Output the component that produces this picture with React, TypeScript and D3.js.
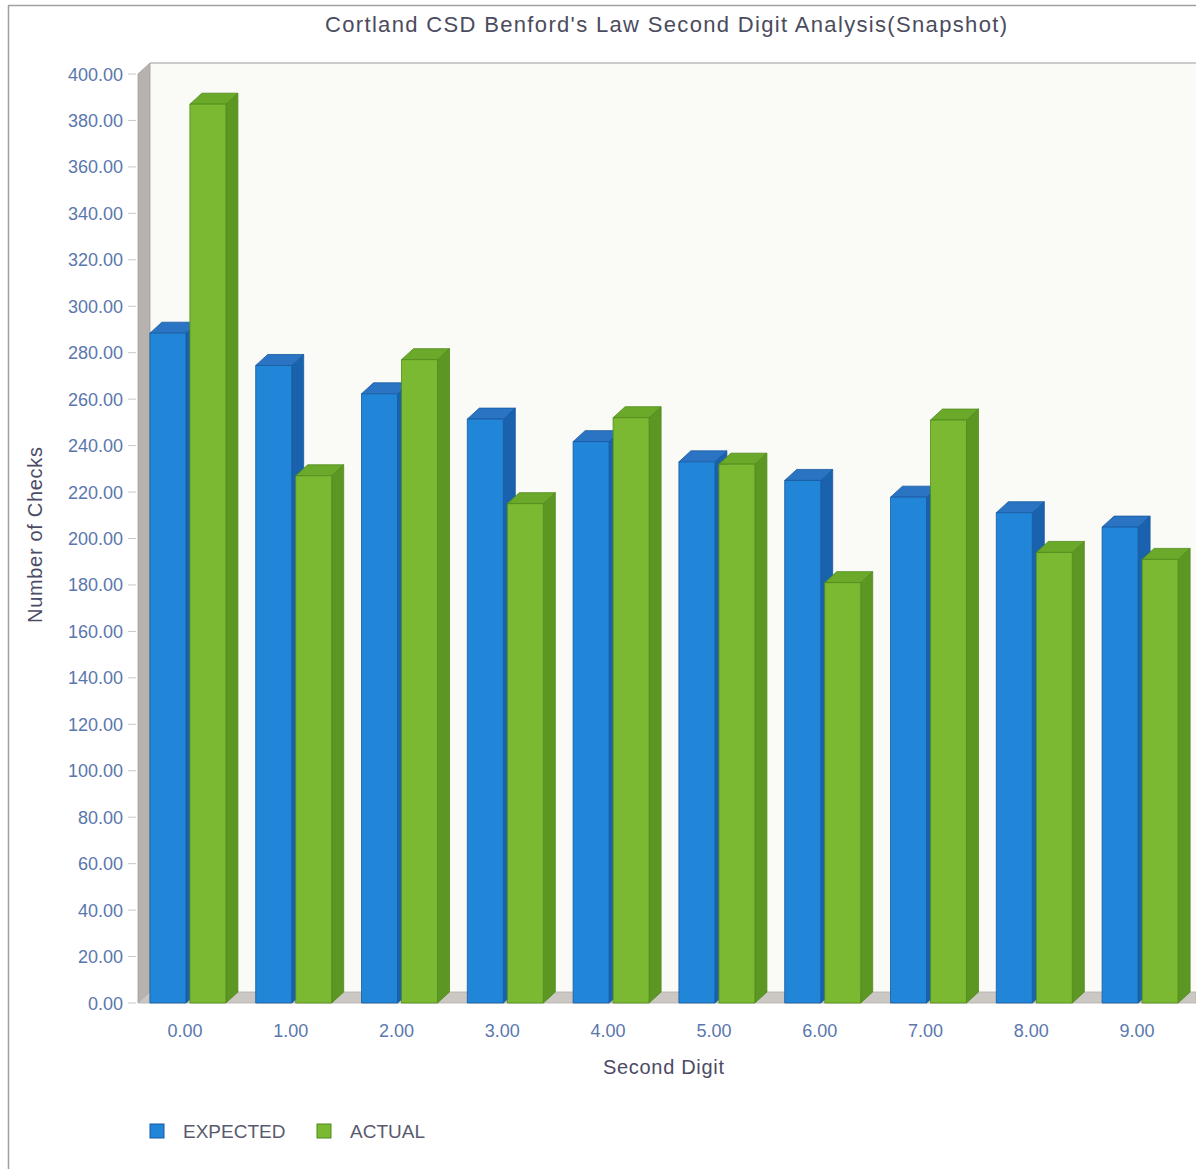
import React from "react";
import * as d3 from "d3";

const categories = ["0.00", "1.00", "2.00", "3.00", "4.00", "5.00", "6.00", "7.00", "8.00", "9.00"];
const expected = [288.4, 274.5, 262.3, 251.4, 241.7, 233.0, 225.0, 217.8, 211.1, 204.9];
const actual = [387, 227, 277, 215, 252, 232, 181, 251, 194, 191];
const yTicks = d3.range(0, 401, 20);
const seriesNames = ["EXPECTED", "ACTUAL"];

const W = 1196;
const H = 1169;
const DX = 12;
const DY = -11;

const BLUE = { front: "#2286d8", side: "#1a62ad", top: "#2b74c4", stroke: "#1659a0" };
const GREEN = { front: "#7cb932", side: "#5b9722", top: "#6aa92a", stroke: "#4f8a1a" };

function Bar3D({ x0, x1, yTop, yBase, c }: any) {
  const front = `M${x0},${yTop}L${x1},${yTop}L${x1},${yBase}L${x0},${yBase}Z`;
  const side = `M${x1},${yTop}L${x1 + DX},${yTop + DY}L${x1 + DX},${yBase + DY}L${x1},${yBase}Z`;
  const top = `M${x0},${yTop}L${x0 + DX},${yTop + DY}L${x1 + DX},${yTop + DY}L${x1},${yTop}Z`;
  return (
    <g>
      <path d={side} fill={c.side} stroke={c.stroke} strokeWidth={0.8} />
      <path d={top} fill={c.top} stroke={c.stroke} strokeWidth={0.8} />
      <path d={front} fill={c.front} stroke={c.stroke} strokeWidth={0.8} />
    </g>
  );
}

export default function App() {
  const y = d3.scaleLinear().domain([0, 400]).range([1003, 74]);
  const x = d3.scaleBand().domain(categories).range([132, 1190]).padding(0);
  const xLeft = 138;
  const base = y(0);
  const topY = y(400);
  const font = "'Liberation Sans', Arial, sans-serif";
  const labelColor = "#5a77ad";

  return (
    <svg width={W} height={H} style={{ position: "absolute", left: 0, top: 0, background: "#fff" }} fontFamily={font}>
      <rect x={0} y={0} width={W} height={H} fill="#fff" />
      {/* outer frame */}
      <line x1={8} y1={5.5} x2={W} y2={5.5} stroke="#a0a0a0" strokeWidth={1.5} />
      <line x1={8.5} y1={5} x2={8.5} y2={H} stroke="#a0a0a0" strokeWidth={1.5} />

      {/* title */}
      <text x={325} y={32} fontSize={22} fill="#4b4b5e" textLength={682} lengthAdjust="spacing">
        Cortland CSD Benford's Law Second Digit Analysis(Snapshot)
      </text>

      {/* back wall */}
      <rect x={xLeft + DX} y={topY + DY} width={W - xLeft - DX} height={base - topY} fill="#fafaf7" />
      <line x1={xLeft + DX} y1={topY + DY} x2={W} y2={topY + DY} stroke="#9a9a9a" strokeWidth={1.2} />
      {/* left wall */}
      <path
        d={`M${xLeft},${topY}L${xLeft + DX},${topY + DY}L${xLeft + DX},${base + DY}L${xLeft},${base}Z`}
        fill="#b7b2ad"
        stroke="#a29c97"
        strokeWidth={0.8}
      />
      {/* floor */}
      <path
        d={`M${xLeft},${base}L${xLeft + DX},${base + DY}L${W},${base + DY}L${W},${base}Z`}
        fill="#cbc7c3"
        stroke="#b3aea9"
        strokeWidth={0.8}
      />

      {/* y ticks */}
      {yTicks.map((t) => (
        <g key={t}>
          <line x1={128} x2={136} y1={y(t)} y2={y(t)} stroke="#c8c8c8" strokeWidth={1} />
          <text x={123} y={y(t) + 6.5} textAnchor="end" fontSize={18} fill={labelColor}>
            {t.toFixed(2)}
          </text>
        </g>
      ))}

      {/* bars */}
      {categories.map((cat, i) => {
        const c = (x(cat) as number) + x.bandwidth() / 2;
        return (
          <g key={cat}>
            <Bar3D x0={c - 35} x1={c + 1} yTop={y(expected[i])} yBase={base} c={BLUE} />
            <Bar3D x0={c + 5} x1={c + 41} yTop={y(actual[i])} yBase={base} c={GREEN} />
          </g>
        );
      })}

      {/* x labels */}
      {categories.map((cat) => {
        const c = (x(cat) as number) + x.bandwidth() / 2;
        return (
          <text key={cat} x={c} y={1037} textAnchor="middle" fontSize={18} fill={labelColor}>
            {cat}
          </text>
        );
      })}

      {/* axis titles */}
      <text x={603} y={1074} fontSize={20} fill="#4b4b66" textLength={121} lengthAdjust="spacing">
        Second Digit
      </text>
      <text
        transform={`translate(42,623) rotate(-90)`}
        fontSize={20}
        fill="#4b4b66"
        textLength={176}
        lengthAdjust="spacing"
      >
        Number of Checks
      </text>

      {/* legend */}
      {seriesNames.map((name, i) => {
        const lx = i === 0 ? 150 : 317;
        const c = i === 0 ? BLUE : GREEN;
        return (
          <g key={name}>
            <rect x={lx} y={1124} width={14} height={14} fill={c.front} stroke={c.stroke} strokeWidth={1} />
            <text x={lx + 33} y={1138} fontSize={19} fill="#5a5a6e">
              {name}
            </text>
          </g>
        );
      })}
    </svg>
  );
}
